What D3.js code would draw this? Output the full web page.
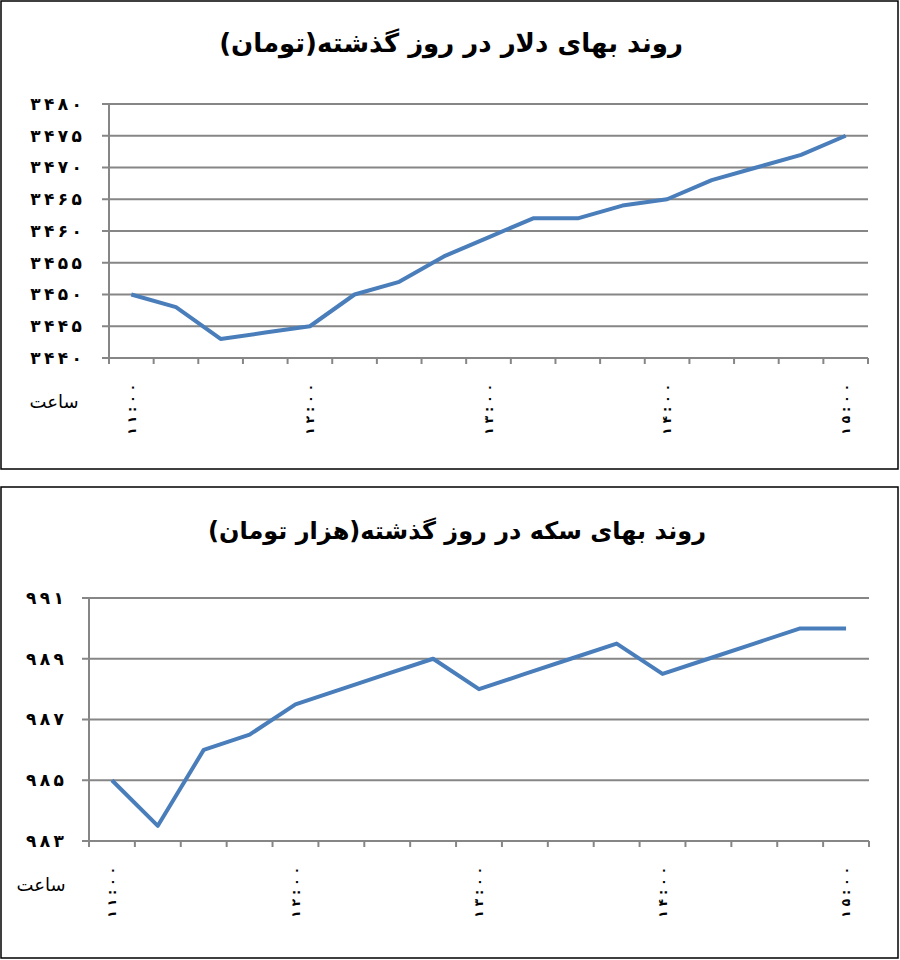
<!DOCTYPE html>
<html>
<head>
<meta charset="utf-8">
<script src="https://cdn.jsdelivr.net/npm/d3@7"></script>
<style>
  body { margin: 0; background: #fff; }
  svg { display: block; }
</style>
</head>
<body>
<div id="chart"></div>
<script>
// categories: every 15 minutes from 11:00 to 15:00
var times = ["11:00","11:15","11:30","11:45","12:00","12:15","12:30","12:45",
             "13:00","13:15","13:30","13:45","14:00","14:15","14:30","14:45","15:00"];
// dollar price (toman)
var dollarValues = [3450, 3448, 3443, 3444, 3445, 3450, 3452, 3456, 3459,
                    3462, 3462, 3464, 3465, 3468, 3470, 3472, 3475];
var dollarTicks = [3440, 3445, 3450, 3455, 3460, 3465, 3470, 3475, 3480];
// coin price (thousand toman)
var coinValues = [985, 983.5, 986, 986.5, 987.5, 988, 988.5, 989, 988,
                  988.5, 989, 989.5, 988.5, 989, 989.5, 990, 990];
var coinTicks = [983, 985, 987, 989, 991];

var titles = ["روند بهای دلار در روز گذشته(تومان)", "روند بهای سکه در روز گذشته(هزار تومان)"];
var xTitle = "ساعت";

// persian digits, spaced out like the original
var fa = function(s, sep) {
  return String(s).replace(/\d/g, function(c) { return "۰۱۲۳۴۵۶۷۸۹"[+c]; })
    .split("").join(sep);
};

var svg = d3.select("#chart").append("svg")
    .attr("width", 900)
    .attr("height", 960);

var gridColor = "#868686", lineColor = "#4a7ebb";

function drawPanel(opt) {
  var g = svg.append("g");

  // panel frame
  g.append("rect")
      .attr("x", 1).attr("y", opt.top)
      .attr("width", 897).attr("height", opt.h)
      .attr("fill", "none")
      .attr("stroke", "#000")
      .attr("stroke-width", 1.5);

  g.append("text")
      .attr("x", opt.titleX).attr("y", opt.titleY)
      .attr("text-anchor", "middle")
      .attr("direction", "rtl")
      .style("font-family", "DejaVu Sans")
      .style("font-weight", "bold")
      .style("font-size", opt.titleSize + "px")
      .text(opt.title);

  var x = d3.scaleBand()
      .domain(times)
      .range([opt.left, opt.right])
      .paddingInner(0).paddingOuter(0);

  var y = d3.scaleLinear()
      .domain(d3.extent(opt.ticks))
      .range([opt.bottom, opt.plotTop]);

  // gridlines + y tick marks
  g.selectAll(".grid")
      .data(opt.ticks)
    .enter().append("line")
      .attr("x1", opt.left - 7)
      .attr("x2", opt.right)
      .attr("y1", function(d) { return y(d); })
      .attr("y2", function(d) { return y(d); })
      .attr("stroke", gridColor)
      .attr("stroke-width", 2);

  g.selectAll(".ylab")
      .data(opt.ticks)
    .enter().append("text")
      .attr("x", opt.labelRight)
      .attr("y", function(d) { return y(d); })
      .attr("dy", "0.35em")
      .attr("text-anchor", "end")
      .style("font-family", "DejaVu Sans")
      .style("font-weight", "bold")
      .style("font-size", "17px")
      .text(function(d) { return fa(d, "\u2009"); });

  // y axis line
  g.append("line")
      .attr("x1", opt.left).attr("x2", opt.left)
      .attr("y1", opt.plotTop).attr("y2", opt.bottom + 6)
      .attr("stroke", gridColor)
      .attr("stroke-width", 2);

  // x tick marks at category boundaries
  var bounds = times.map(function(t) { return x(t); }).concat([opt.right]);
  g.selectAll(".xtick")
      .data(bounds.slice(1))
    .enter().append("line")
      .attr("x1", function(d) { return d; })
      .attr("x2", function(d) { return d; })
      .attr("y1", opt.bottom)
      .attr("y2", opt.bottom + 6)
      .attr("stroke", gridColor)
      .attr("stroke-width", 2);

  // x labels, hourly only, rotated
  g.selectAll(".xlab")
      .data(times.filter(function(t, i) { return i % 4 === 0; }))
    .enter().append("text")
      .attr("transform", function(d) {
        return "translate(" + (x(d) + x.bandwidth() / 2) + "," + (opt.bottom + 26) + ") rotate(-90)";
      })
      .attr("dy", "0.35em")
      .attr("text-anchor", "end")
      .style("font-family", "DejaVu Sans")
      .style("font-weight", "bold")
      .style("font-size", "12px")
      .text(function(d) { return fa(d, " "); });

  g.append("text")
      .attr("x", opt.xTitleX).attr("y", opt.bottom + 50)
      .attr("text-anchor", "middle")
      .style("font-family", "DejaVu Sans")
      .style("font-size", "18px")
      .text(xTitle);

  var line = d3.line()
      .x(function(d, i) { return x(times[i]) + x.bandwidth() / 2; })
      .y(function(d) { return y(d); });

  g.append("path")
      .datum(opt.values)
      .attr("d", line)
      .attr("fill", "none")
      .attr("stroke", lineColor)
      .attr("stroke-width", 4)
      .attr("stroke-linejoin", "round");
}

drawPanel({
  top: 1, h: 468,
  title: titles[0], titleX: 451, titleY: 52, titleSize: 26,
  left: 109, right: 868, plotTop: 104, bottom: 358,
  labelRight: 82, xTitleX: 54,
  ticks: dollarTicks, values: dollarValues
});

drawPanel({
  top: 487, h: 471,
  title: titles[1], titleX: 457, titleY: 539, titleSize: 24,
  left: 89, right: 869, plotTop: 598, bottom: 841,
  labelRight: 64, xTitleX: 41,
  ticks: coinTicks, values: coinValues
});
</script>
</body>
</html>
